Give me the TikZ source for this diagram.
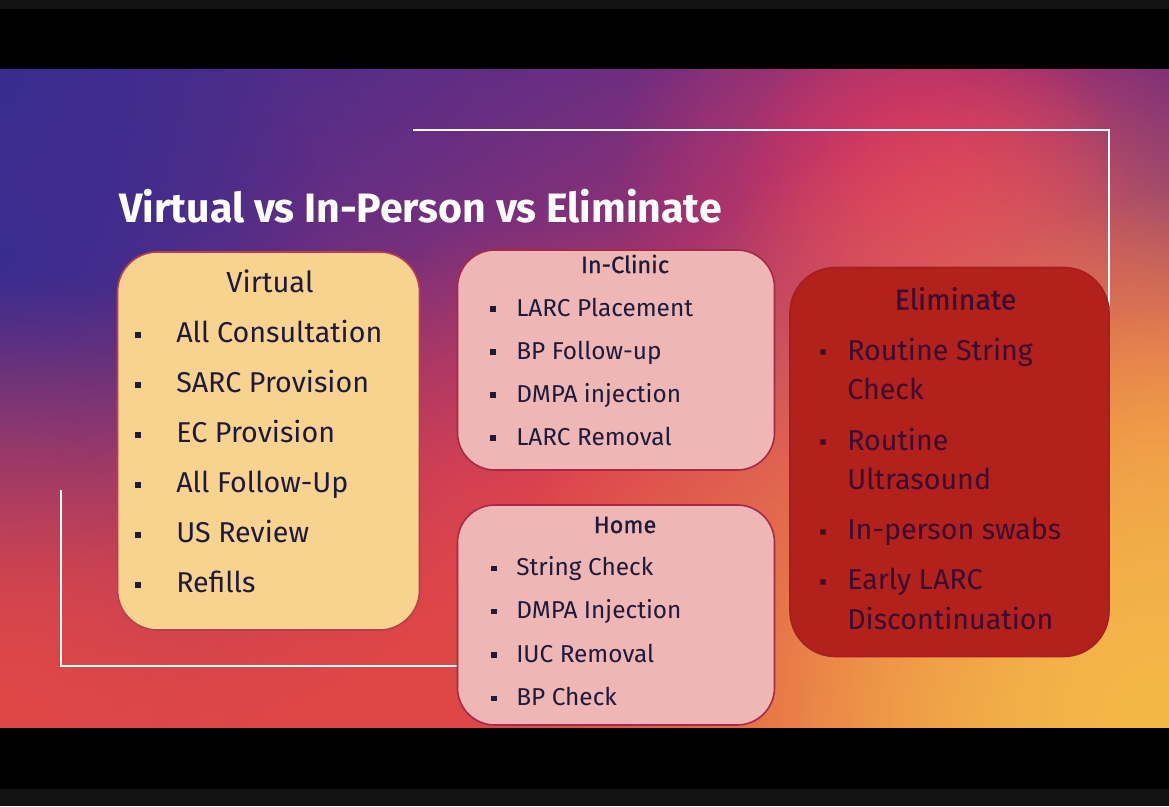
\documentclass[tikz,border=0pt]{standalone}
\usepackage{fontspec}
\setmainfont{Fira Sans}
\newfontfamily\headfont[FakeBold=0.8]{Fira Sans}
\usetikzlibrary{fadings}
\tikzfading[name=glow, inner color=transparent!0, outer color=transparent!100]
\definecolor{bargray}{HTML}{121212}
\definecolor{bgtop}{HTML}{4C2A8C}
\definecolor{bgmid}{HTML}{D4385E}
\definecolor{bgbot}{HTML}{E04846}
\definecolor{gblue}{HTML}{3A2C90}
\definecolor{gpurple}{HTML}{6A2A80}
\definecolor{gpink}{HTML}{D8385E}
\definecolor{gorange}{HTML}{F4B848}
\definecolor{gorange2}{HTML}{EA6046}
\definecolor{vfill}{HTML}{F8D28F}
\definecolor{vborder}{HTML}{B8404A}
\definecolor{pfill}{HTML}{EEB6B4}
\definecolor{pborder}{HTML}{A82848}
\definecolor{efill}{HTML}{B2211C}
\definecolor{eborder}{HTML}{A61E22}
\definecolor{vtext}{HTML}{1E1A3C}
\definecolor{etext}{HTML}{3A0C30}
\pgfdeclareverticalshading{bgv}{100bp}{color(0bp)=(bgbot); color(30bp)=(bgbot!90!bgmid); color(45bp)=(bgmid); color(62bp)=(bgmid!55!bgtop); color(80bp)=(bgtop!80!bgmid); color(100bp)=(bgtop)}
\tikzset{
  boxbase/.style={rectangle, inner sep=0, line width=1.2pt},
  vbox/.style={boxbase, draw=vborder, fill=vfill, rounded corners=30pt, minimum width=226.5pt, minimum height=283.5pt},
  pbox/.style={boxbase, draw=pborder, fill=pfill, rounded corners=28pt, minimum width=237.75pt, minimum height=165pt},
  ebox/.style={boxbase, draw=eborder, fill=efill, rounded corners=34pt, minimum width=239.25pt, minimum height=291.75pt},
  vitem/.style={anchor=base west, inner sep=0, text=vtext, font=\fontsize{21.5}{25}\selectfont},
  pitem/.style={anchor=base west, inner sep=0, text=vtext, font=\fontsize{18.3}{22}\selectfont},
  eitem/.style={anchor=base west, inner sep=0, text=etext, font=\fontsize{21.5}{25}\selectfont},
  vhead/.style={anchor=base, inner sep=0, text=vtext, font=\fontsize{21.8}{25}\selectfont},
  phead/.style={anchor=base, inner sep=0, text=vtext, font=\headfont\fontsize{17.6}{21}\selectfont},
  ehead/.style={anchor=base, inner sep=0, text=etext, font=\headfont\fontsize{21.4}{25}\selectfont},
  vbullet/.style={rectangle, inner sep=0, minimum size=4.5pt, fill=vtext},
  pbullet/.style={rectangle, inner sep=0, minimum size=4pt, fill=vtext},
  ebullet/.style={rectangle, inner sep=0, minimum size=4pt, fill=etext, draw=efill!60!black},
  bracket/.style={draw=white, line width=1.6pt},
}
\begin{document}
\begin{tikzpicture}[x=0.75pt,y=-0.75pt]
\useasboundingbox (0,0) rectangle (1169,806);
\fill[bargray] (0,0) rectangle (1169,806);
\fill[black] (0,9) rectangle (1169,789);
\begin{scope}
  \clip (0,70) rectangle (1169,727);
  \shade[shading=bgv] (0,70) rectangle (1169,727);
  \fill[gblue, path fading=glow] (0,70) circle (700);
  \fill[gblue, path fading=glow] (0,260) circle (330);
  \fill[gpurple, path fading=glow] (1169,70) circle (260);
  \fill[gpurple, path fading=glow] (1169,70) circle (180);
  \fill[gpink, path fading=glow] (930,200) circle (320);
  \fill[gpink, path fading=glow] (930,200) circle (200);
  \fill[bgbot, path fading=glow] (560,640) circle (420);
  \fill[gorange2, path fading=glow] (1169,470) circle (280);
  \fill[gorange, path fading=glow] (1169,727) circle (680);
  \fill[gorange, path fading=glow] (1169,727) circle (420);
  \fill[bgbot, path fading=glow] (0,727) circle (450);
\end{scope}

% title
\node[anchor=base west, inner sep=0, text=white, font=\bfseries\fontsize{30.8}{36}\selectfont] (title) at (119,222) {Virtual vs In-Person vs Eliminate};

% bracket lines
\coordinate (tl) at (413,130);
\coordinate (tr) at (1109,130);
\coordinate (te) at (1109,306);
\coordinate (bl) at (61,490);
\coordinate (bc) at (61,666);
\coordinate (br) at (458,666);
\draw[bracket] (tl) -- (tr) -- (te);
\draw[bracket] (bl) -- (bc) -- (br);

% boxes
\node[vbox] (virt) at (268.5,441) {};
\node[pbox] (clinic) at (616,360) {};
\node[pbox] (home) at (616,615) {};
\node[ebox] (elim) at (949.5,462) {};

% Virtual
\node[vhead] (vh) at (270,292) {Virtual};
\foreach \t [count=\i] in {All Consultation, SARC Provision, EC Provision, All Follow-Up, US Review, Refills}{
  \node[vbullet] (vb\i) at (138,{342+50*(\i-1)-7.5}) {};
  \node[vitem] (vi\i) at (176,{342+50*(\i-1)}) {\t};
}

% In-Clinic
\node[phead] (ch) at (625,273) {In-Clinic};
\foreach \t [count=\i] in {LARC Placement, BP Follow-up, DMPA injection, LARC Removal}{
  \node[pbullet] (cb\i) at (493,{316+43*(\i-1)-7}) {};
  \node[pitem] (ci\i) at (516,{316+43*(\i-1)}) {\t};
}

% Home
\node[phead] (hh) at (625,533) {Home};
\foreach \t [count=\i] in {String Check, DMPA Injection, IUC Removal, BP Check}{
  \node[pbullet] (hb\i) at (494,{575.5+43.3*(\i-1)-7}) {};
  \node[pitem] (hi\i) at (516,{575.5+43.3*(\i-1)}) {\t};
}

% Eliminate
\node[ehead] (eh) at (955.5,309.5) {Eliminate};
\node[ebullet] (eb1) at (822.5,352) {};
\node[eitem] (ei1a) at (847,360) {Routine String};
\node[eitem] (ei1b) at (847,399.5) {Check};
\node[ebullet] (eb2) at (822.5,442) {};
\node[eitem] (ei2a) at (847,450) {Routine};
\node[eitem] (ei2b) at (847,489.5) {Ultrasound};
\node[ebullet] (eb3) at (822.5,531.5) {};
\node[eitem] (ei3) at (847,539.5) {In-person swabs};
\node[ebullet] (eb4) at (822.5,581.5) {};
\node[eitem] (ei4a) at (847,589.5) {Early LARC};
\node[eitem] (ei4b) at (847,629) {Discontinuation};
\end{tikzpicture}
\end{document}
